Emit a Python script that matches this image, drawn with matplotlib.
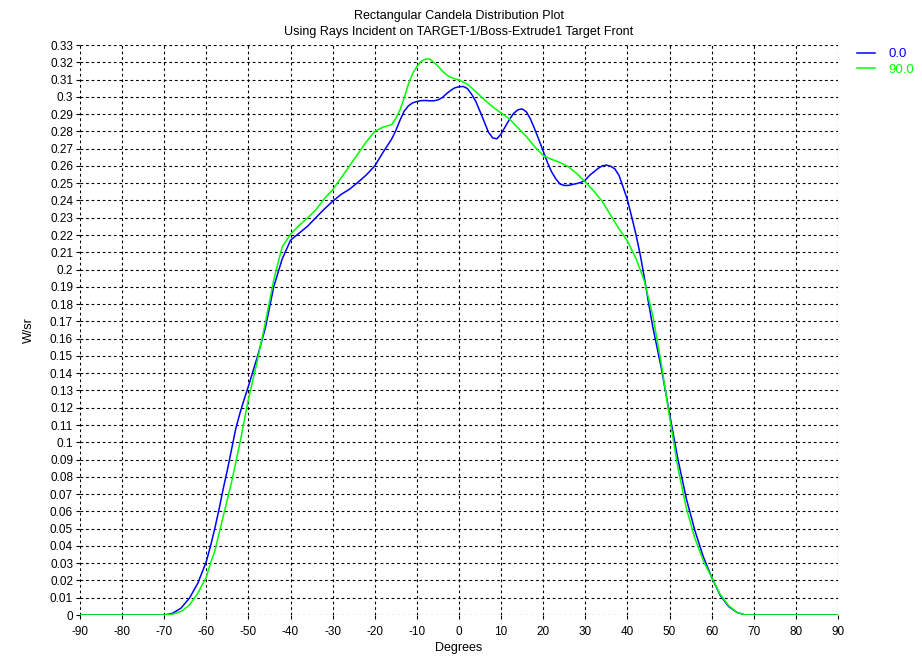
import matplotlib
matplotlib.use("Agg")
import matplotlib.pyplot as plt

plt.rcParams['font.family'] = ['Liberation Sans', 'DejaVu Sans']

# ---- data ----
deg_0 = [-90, -80, -70, -68, -66, -64, -62, -60, -59, -58, -57, -56, -55, -54, -53, -52, -51, -50,
         -48, -46, -44, -42, -40, -38, -36, -34, -32, -30, -28, -26, -24, -22, -20, -18, -16, -15,
         -14, -13, -12, -11, -10, -9, -8, -7, -6, -5, -4, -3, -2, -1, 0, 1, 2, 3, 4, 5, 6, 7, 8, 9,
         10, 11, 12, 13, 14, 15, 16, 17, 18, 19, 20, 21, 22, 23, 24, 25, 26, 27, 28, 29, 30, 31, 32,
         33, 34, 35, 36, 37, 38, 39, 40, 41, 42, 43, 44, 45, 46, 48, 50, 52, 54, 56, 58, 60, 62, 64,
         66, 68, 70, 80, 90]
val_0 = [0, 0, 0, 0.001, 0.004, 0.0098, 0.0185, 0.031, 0.040, 0.050, 0.061, 0.073, 0.084, 0.096,
         0.108, 0.117, 0.125, 0.1325, 0.1485, 0.166, 0.19, 0.206, 0.217, 0.221, 0.225, 0.230, 0.235,
         0.2395, 0.2435, 0.2465, 0.2505, 0.2548, 0.26, 0.268, 0.2755, 0.2805,
         0.2865, 0.2918, 0.2948, 0.2965, 0.2973, 0.2978, 0.2979, 0.2977, 0.2977, 0.2982, 0.2995,
         0.3017, 0.3037, 0.3052, 0.3058, 0.306, 0.3048, 0.3015, 0.2973, 0.2915, 0.2855, 0.2795,
         0.2762, 0.2757, 0.2785, 0.2828, 0.287, 0.2905, 0.2925, 0.293, 0.2913, 0.287, 0.2812, 0.275,
         0.2685, 0.262, 0.2565, 0.2525, 0.2495, 0.2487, 0.2487, 0.2493, 0.2498, 0.2505, 0.2518,
         0.2545, 0.2565, 0.2585, 0.26, 0.2605, 0.2598, 0.2583, 0.2545, 0.2475, 0.2404, 0.2306,
         0.2205, 0.209, 0.1955, 0.181, 0.167, 0.1435, 0.1164, 0.09, 0.0672, 0.049, 0.0338, 0.0218,
         0.0115, 0.005, 0.0015, 0, 0, 0, 0]

deg_90 = [-90, -80, -70, -68, -66, -64, -62, -60, -59, -58, -56, -54, -52, -50, -48, -46, -44, -42,
          -40, -38, -36, -34, -32, -30, -28, -26, -24, -22, -20, -18, -17, -16, -15, -14, -13, -12,
          -11, -10, -9, -8, -7, -6, -5, -4, -3, -2, -1, 0, 2, 4, 6, 8, 10, 12, 14, 16, 18, 20, 22,
          24, 26, 28, 30, 32, 34, 36, 38, 40, 42, 44, 46, 48, 50, 52, 54, 56, 58, 60, 62, 64, 66, 68,
          70, 80, 90]
val_90 = [0, 0, 0, 0.0005, 0.002, 0.0058, 0.0127, 0.022, 0.030, 0.037, 0.057, 0.077, 0.100, 0.125,
          0.146, 0.169, 0.194, 0.213, 0.2205, 0.2255, 0.2298, 0.2345, 0.241, 0.2462, 0.253, 0.26,
          0.267, 0.274, 0.280, 0.2825, 0.2832, 0.2838, 0.2875, 0.2925, 0.2995, 0.3075,
          0.3135, 0.3175, 0.3205, 0.3218, 0.3219, 0.320, 0.3178, 0.315, 0.3128, 0.3113, 0.3104,
          0.3098, 0.3073, 0.303, 0.2983, 0.2942, 0.2906, 0.2872, 0.282, 0.277, 0.271, 0.266, 0.2638,
          0.262, 0.2595, 0.2555, 0.2506, 0.2455, 0.2395, 0.2315, 0.2235, 0.2165, 0.2065, 0.1935,
          0.1735, 0.146, 0.1145, 0.085, 0.0617, 0.0445, 0.0315, 0.0218, 0.012, 0.0055, 0.0015, 0,
          0, 0, 0]

series_labels = ["0.0", "90.0"]
x_ticks = list(range(-90, 91, 10))
y_ticks = [round(i * 0.01, 2) for i in range(0, 34)]

title = "Rectangular Candela Distribution Plot\nUsing Rays Incident on TARGET-1/Boss-Extrude1 Target Front"

# ---- figure ----
fig = plt.figure(figsize=(9.22, 6.58), dpi=100)
ax = fig.add_axes([80 / 922, 43 / 658, (838 - 80) / 922, (615 - 45) / 658])

ax.plot(deg_0, val_0, color='#0000ff', lw=1.1, label=series_labels[0], zorder=3)
ax.plot(deg_90, val_90, color='#00ff00', lw=1.1, label=series_labels[1], zorder=3)

ax.set_xlim(-90, 90)
ax.set_ylim(0, 0.33)
ax.set_xticks(x_ticks)
ax.set_xticklabels([str(t) for t in x_ticks])
ax.set_yticks(y_ticks)
ax.set_yticklabels([f"{t:g}" for t in y_ticks])
ax.tick_params(axis='both', labelsize=8.5, length=3, width=0.8, color='black', direction='out')
ax.tick_params(axis='x', pad=5)
ax.tick_params(axis='y', pad=2)

ax.grid(True, color='black', linestyle=(0, (2.5, 2.5)), linewidth=0.8)
for s in ax.spines.values():
    s.set_visible(False)

ax.set_xlabel("Degrees", fontsize=9, labelpad=3)
ax.set_ylabel("W/sr", fontsize=9, labelpad=11)
ax.set_title(title, fontsize=9, pad=7, linespacing=1.45)

ax.legend(loc='upper left', bbox_to_anchor=(1.018, 1.004), frameon=False, fontsize=9.5,
          handlelength=1.4, handletextpad=1.0, labelcolor='linecolor', borderaxespad=0,
          labelspacing=0.25)

fig.savefig("out.png", dpi=100)
